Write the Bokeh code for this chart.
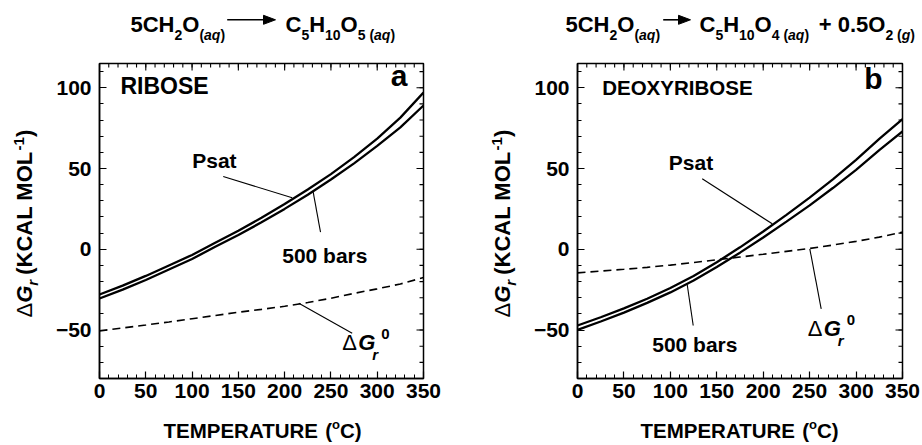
from math import pi
from bokeh.plotting import figure
from bokeh.models import Label, FixedTicker, Range1d
from bokeh.core.properties import value
from bokeh.layouts import row
from bokeh.embed import file_html
from bokeh.resources import INLINE

# ---------------- data ----------------
temperature = [0, 25, 50, 75, 100, 125, 150, 175, 200, 225, 250, 275, 300, 325, 350]
ribose_psat = [-28.0, -22.5, -16.5, -10.0, -3.5, 4.0, 11.5, 19.5, 28.0, 37.0, 46.5, 57.0, 68.5, 81.5, 97.0]
ribose_500bar = [-30.5, -25.0, -19.0, -12.5, -6.0, 1.5, 8.8, 16.7, 25.0, 33.8, 43.2, 53.2, 64.0, 75.5, 89.0]
ribose_dg0 = [-50.5, -48.7, -46.9, -45.0, -43.0, -41.0, -39.0, -37.2, -35.3, -33.0, -30.3, -27.3, -24.5, -21.5, -17.5]
deoxy_psat = [-47.2, -42.1, -36.6, -30.6, -24.0, -16.5, -8.0, 1.2, 11.0, 21.3, 32.0, 43.3, 55.3, 68.3, 80.5]
deoxy_500bar = [-49.9, -44.7, -39.2, -33.2, -26.7, -19.3, -11.0, -2.1, 7.3, 17.1, 27.2, 37.9, 49.2, 61.4, 73.0]
deoxy_dg0 = [-14.6, -13.5, -12.4, -11.2, -9.8, -8.2, -6.5, -4.8, -3.1, -1.3, 0.5, 2.6, 4.9, 7.5, 10.6]
x_ticks = [0, 50, 100, 150, 200, 250, 300, 350]
y_ticks = [-50, 0, 50, 100]
x_minor = list(range(0, 351, 10))
y_minor = list(range(-80, 116, 10))
X_RANGE = (0, 350)
Y_RANGE = (-80, 115)

# ---------------- layout (picture pixels) ----------------
FONT = "Liberation Sans"
FIG_H = 443
FRAME_TOP = 63
FRAME_H = 315
PX_PER_Y = FRAME_H / (Y_RANGE[1] - Y_RANGE[0])
MAJ, MIN = 7, 4
BASE_FIX = 0.39   # measured offset of the rendered baseline, per px of font size
LEFT = dict(page_left=0, width=460, frame_left=99, frame_w=324)
RIGHT = dict(page_left=460, width=460, frame_left=577, frame_w=325)

WID = {' ': 278, '(': 333, ')': 333, '+': 584, '-': 333, '.': 278, 'Δ': 670,
       'A': 722, 'B': 722, 'C': 722, 'D': 722, 'E': 667, 'G': 778, 'H': 722, 'I': 278,
       'K': 722, 'L': 611, 'M': 833, 'O': 778, 'P': 667, 'R': 722, 'S': 667, 'T': 611,
       'U': 722, 'X': 667, 'Y': 667, 'a': 556, 'b': 611, 'g': 611, 'o': 611, 'q': 611,
       'r': 389, 's': 556, 't': 333}


def text_width(s, size):
    return sum(WID.get(c, 556) for c in s) * size / 1000.0


def to_data(panel, px, py):
    x = (px - panel["frame_left"]) * (X_RANGE[1] - X_RANGE[0]) / panel["frame_w"] + X_RANGE[0]
    y = Y_RANGE[1] - (py - FRAME_TOP) / PX_PER_Y
    return x, y


def put(p, panel, text, px, py, size, style="bold", align="left"):
    # label inside the plot frame; py is the wanted baseline
    x, y = to_data(panel, px, py - BASE_FIX * size)
    p.add_layout(Label(x=x, y=y, text=text, text_font=FONT, text_font_size=f"{size}px",
                       text_font_style=style, text_color="black", text_align=align,
                       text_baseline="alphabetic"))


def gtext(p, panel, text, px, py, size, style="bold", align="left", angle=0.0):
    # text outside the frame (overlay level)
    x, y = to_data(panel, px, py)
    p.text(x=[x], y=[y], text=[text], text_font=value(FONT), text_font_size=value(f"{size}px"),
           text_font_style=value(style), text_color="black", text_align=value(align),
           text_baseline=value("alphabetic"), angle=angle, level="overlay")


def compose(p, panel, start, base, runs, vertical=False):
    pos = start
    for text, size, style, shift, gap in runs:
        fix = BASE_FIX * size
        if vertical:
            pos -= gap
            gtext(p, panel, text, base - shift - fix, pos, size, style, angle=pi / 2)
            pos -= text_width(text, size)
        else:
            pos += gap
            gtext(p, panel, text, pos, base - shift - fix, size, style)
            pos += text_width(text, size)


def style_axis(ax, standoff):
    ax.axis_line_color = "black"
    ax.axis_line_width = 1.5
    ax.major_tick_line_color = "black"
    ax.minor_tick_line_color = "black"
    ax.major_tick_line_width = 1.2
    ax.minor_tick_line_width = 1.0
    ax.major_tick_in = MAJ
    ax.major_tick_out = 0
    ax.minor_tick_in = MIN
    ax.minor_tick_out = 0
    ax.major_label_text_font = FONT
    ax.major_label_text_font_size = "21px"
    ax.major_label_text_font_style = "bold"
    ax.major_label_text_color = "black"
    ax.major_label_standoff = standoff


def make_panel(panel, psat, bar500, dg0):
    fw = panel["frame_w"]
    bl = panel["frame_left"] - panel["page_left"]
    p = figure(width=panel["width"], height=FIG_H,
               x_range=Range1d(*X_RANGE), y_range=Range1d(*Y_RANGE),
               output_backend="svg", toolbar_location=None,
               min_border_left=bl, min_border_right=panel["width"] - bl - fw,
               min_border_top=FRAME_TOP, min_border_bottom=FIG_H - FRAME_TOP - FRAME_H,
               background_fill_color="white", border_fill_color="white")
    p.xgrid.visible = False
    p.ygrid.visible = False
    p.outline_line_color = "black"
    p.outline_line_width = 1.5
    p.xaxis.ticker = FixedTicker(ticks=x_ticks, minor_ticks=x_minor)
    p.yaxis.ticker = FixedTicker(ticks=y_ticks, minor_ticks=y_minor)
    style_axis(p.xaxis[0], 5)
    style_axis(p.yaxis[0], 8)

    # mirrored inward ticks on the top and right edges
    dy_maj, dy_min = MAJ / PX_PER_Y, MIN / PX_PER_Y
    ux = (X_RANGE[1] - X_RANGE[0]) / fw
    xt = x_ticks + x_minor
    p.segment(x0=xt, x1=xt, y0=[Y_RANGE[1]] * len(xt),
              y1=[Y_RANGE[1] - dy_maj] * len(x_ticks) + [Y_RANGE[1] - dy_min] * len(x_minor),
              line_color="black", line_width=1.1)
    yt = y_ticks + y_minor
    p.segment(y0=yt, y1=yt, x0=[X_RANGE[1]] * len(yt),
              x1=[X_RANGE[1] - MAJ * ux] * len(y_ticks) + [X_RANGE[1] - MIN * ux] * len(y_minor),
              line_color="black", line_width=1.1)

    p.line(temperature, psat, line_color="black", line_width=2.3)
    p.line(temperature, bar500, line_color="black", line_width=2.3)
    p.line(temperature, dg0, line_color="black", line_width=1.6, line_dash="8 5")

    # axis titles (rotated y title, x title with superscript)
    compose(p, panel, 317, panel["frame_left"] - 66,
            [("Δ", 22, "normal", 0, 0), ("G", 22, "bold italic", 0, 0),
             ("r", 15, "bold italic", -5, 0), ("(KCAL MOL", 22, "bold", 0, 5),
             ("-1", 15, "bold", 9, 1), (")", 22, "bold", 0, 0)], vertical=True)
    compose(p, panel, panel["xtitle"], 438,
            [("TEMPERATURE", 20.5, "bold", 0, 0), ("(", 20.5, "bold", 0, 5.7),
             ("o", 13, "bold", 9, 0), ("C)", 20.5, "bold", 0, 0)])
    return p


def leaders(p, panel, segs):
    x0, y0, x1, y1 = [], [], [], []
    for (a, b, c, d) in segs:
        xa, ya = to_data(panel, a, b)
        xb, yb = to_data(panel, c, d)
        x0.append(xa); y0.append(ya); x1.append(xb); y1.append(yb)
    p.segment(x0=x0, y0=y0, x1=x1, y1=y1, line_color="black", line_width=1.1)


def title_arrow(p, panel, xa, xb, py):
    x0, y0 = to_data(panel, xa, py)
    x1, y1 = to_data(panel, xb - 11, py)
    p.segment(x0=[x0], y0=[y0], x1=[x1], y1=[y1], line_color="black", line_width=1.6,
              level="overlay")
    hx, hy = [], []
    for (a, b) in [(xb - 12, py - 4.5), (xb, py), (xb - 12, py + 4.5)]:
        u, v = to_data(panel, a, b)
        hx.append(u); hy.append(v)
    p.patch(hx, hy, fill_color="black", line_color="black", line_width=1, level="overlay")


def dg_label(p, panel, px, base):
    put(p, panel, "Δ", px, base, 22, "normal")
    put(p, panel, "G", px + 16, base, 22, "bold italic")
    put(p, panel, "r", px + 30, base + 9.5, 15, "bold italic")
    put(p, panel, "0", px + 39, base - 11.5, 15, "bold")


M, S, SH = 22, 14, -7.2
BM = 32.3
REACTANT = [("5CH", M, "bold", 0, 0), ("2", S, "bold", SH, 0), ("O", M, "bold", 0, 0),
            ("(", S, "bold", SH, 0), ("aq", S, "bold italic", SH, 0), (")", S, "bold", SH, 0)]
RIBOSE_PRODUCT = [("C", M, "bold", 0, 0), ("5", S, "bold", SH, 0), ("H", M, "bold", 0, 0),
                  ("10", S, "bold", SH, 0), ("O", M, "bold", 0, 0), ("5", S, "bold", SH, 0),
                  ("(", S, "bold", SH, 3.9), ("aq", S, "bold italic", SH, 0), (")", S, "bold", SH, 0)]
DEOXY_PRODUCT = [("C", M, "bold", 0, 0), ("5", S, "bold", SH, 0), ("H", M, "bold", 0, 0),
                 ("10", S, "bold", SH, 0), ("O", M, "bold", 0, 0), ("4", S, "bold", SH, 0),
                 ("(", S, "bold", SH, 3.9), ("aq", S, "bold italic", SH, 0), (")", S, "bold", SH, 0),
                 ("+", M, "bold", 0, 9.7), ("0.5O", M, "bold", 0, 6.1), ("2", S, "bold", SH, 0),
                 ("(", S, "bold", SH, 3.9), ("g", S, "bold italic", SH, 0), (")", S, "bold", SH, 0)]

LEFT["xtitle"] = 163
RIGHT["xtitle"] = 640

# ---------------- left panel: ribose ----------------
p1 = make_panel(LEFT, ribose_psat, ribose_500bar, ribose_dg0)
compose(p1, LEFT, 130, BM, REACTANT)
title_arrow(p1, LEFT, 226.7, 275, 19.3)
compose(p1, LEFT, 285, BM, RIBOSE_PRODUCT)
put(p1, LEFT, "RIBOSE", 120, 94.3, 23)
put(p1, LEFT, "a", 407, 87, 30, align="right")
put(p1, LEFT, "Psat", 191.7, 168.3, 21)
put(p1, LEFT, "500 bars", 281.7, 262.7, 21)
dg_label(p1, LEFT, 341.7, 350.5)
leaders(p1, LEFT, [(222.7, 176, 291.7, 197.3), (312.7, 191.7, 320, 231.7), (298.3, 302.7, 351.7, 332.7)])

# ---------------- right panel: deoxyribose ----------------
p2 = make_panel(RIGHT, deoxy_psat, deoxy_500bar, deoxy_dg0)
compose(p2, RIGHT, 565, BM, REACTANT)
title_arrow(p2, RIGHT, 662.7, 690, 19.3)
compose(p2, RIGHT, 699, BM, DEOXY_PRODUCT)
put(p2, RIGHT, "DEOXYRIBOSE", 601.7, 95, 20.5)
put(p2, RIGHT, "b", 882, 90, 30, align="right")
put(p2, RIGHT, "Psat", 668.3, 170, 21)
put(p2, RIGHT, "500 bars", 651.7, 351.7, 21)
dg_label(p2, RIGHT, 807.3, 336.7)
leaders(p2, RIGHT, [(701.7, 178.3, 771.7, 223.3), (686.7, 284, 692.7, 325), (809.3, 248.3, 820.7, 308.3)])

layout = row(p1, p2)
open("out.html", "w").write(file_html(layout, INLINE))
